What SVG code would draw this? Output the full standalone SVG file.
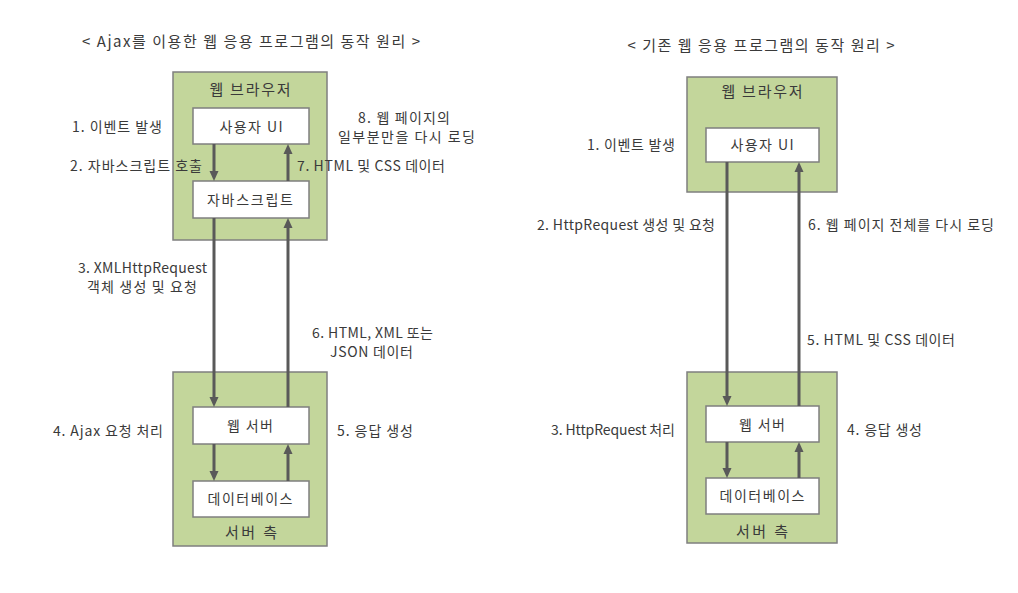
<svg xmlns="http://www.w3.org/2000/svg" width="1018" height="593" viewBox="0 0 1018 593">
<defs>
<style>
.t{font-family:"Noto Sans CJK KR","Noto Sans",sans-serif;font-size:14px;fill:#3a3a3a}
.c{text-anchor:middle}
.title{font-size:15px}
.grp{fill:#C3D69B;stroke:#7F7F7F;stroke-width:1.5}
.box{fill:#FFFFFF;stroke:#7F7F7F;stroke-width:1.5}
.ar{stroke:#595959;stroke-width:3;fill:none;marker-end:url(#ah)}
</style>
<marker id="ah" markerUnits="userSpaceOnUse" markerWidth="10" markerHeight="10" viewBox="0 0 10 10" refX="3" refY="5" orient="auto">
<path d="M0,0.5 L10,5 L0,9.5 z" fill="#595959"/>
</marker>
</defs>
<rect width="1018" height="593" fill="#FFFFFF"/>

<text class="t c title" x="251" y="47" textLength="338" lengthAdjust="spacing">&lt; Ajax를 이용한 웹 응용 프로그램의 동작 원리 &gt;</text>
<text class="t c title" x="761" y="51" textLength="267" lengthAdjust="spacing">&lt; 기존 웹 응용 프로그램의 동작 원리 &gt;</text>

<g id="ajax-browser">
<rect class="grp" x="173" y="72" width="154" height="168"/>
<text class="t c title" x="250" y="95" textLength="81" lengthAdjust="spacing">웹 브라우저</text>
</g>
<g id="ajax-ui">
<rect class="box" x="193" y="108" width="116" height="36"/>
<text class="t c" x="251" y="132" textLength="63" lengthAdjust="spacing">사용자 UI</text>
</g>
<g id="ajax-js">
<rect class="box" x="193" y="181" width="116" height="37"/>
<text class="t c" x="250" y="205" textLength="86" lengthAdjust="spacing">자바스크립트</text>
</g>
<g id="ajax-server">
<rect class="grp" x="173" y="372" width="154" height="174"/>
<text class="t c title" x="251" y="538" textLength="52" lengthAdjust="spacing">서버 측</text>
</g>
<g id="ajax-web">
<rect class="box" x="193" y="407" width="116" height="37"/>
<text class="t c" x="250" y="431" textLength="46" lengthAdjust="spacing">웹 서버</text>
</g>
<g id="ajax-db">
<rect class="box" x="193" y="481" width="116" height="36"/>
<text class="t c" x="250" y="504" textLength="85" lengthAdjust="spacing">데이터베이스</text>
</g>

<g id="classic-browser">
<rect class="grp" x="687" y="77" width="150" height="115"/>
<text class="t c title" x="762" y="97" textLength="81" lengthAdjust="spacing">웹 브라우저</text>
</g>
<g id="classic-ui">
<rect class="box" x="706" y="128" width="113" height="34"/>
<text class="t c" x="762" y="150" textLength="63" lengthAdjust="spacing">사용자 UI</text>
</g>
<g id="classic-server">
<rect class="grp" x="687" y="372" width="150" height="171"/>
<text class="t c title" x="762" y="537" textLength="52" lengthAdjust="spacing">서버 측</text>
</g>
<g id="classic-web">
<rect class="box" x="706" y="406" width="113" height="36"/>
<text class="t c" x="762" y="430" textLength="46" lengthAdjust="spacing">웹 서버</text>
</g>
<g id="classic-db">
<rect class="box" x="706" y="478" width="113" height="36"/>
<text class="t c" x="762" y="501" textLength="85" lengthAdjust="spacing">데이터베이스</text>
</g>

<g id="connectors">
<line class="ar" x1="214" y1="144" x2="214" y2="174"/>
<line class="ar" x1="214" y1="218" x2="214" y2="400"/>
<line class="ar" x1="214" y1="444" x2="214" y2="474"/>
<line class="ar" x1="288" y1="181" x2="288" y2="151"/>
<line class="ar" x1="288" y1="407" x2="288" y2="225"/>
<line class="ar" x1="288" y1="481" x2="288" y2="451"/>
<line class="ar" x1="727" y1="162" x2="727" y2="399"/>
<line class="ar" x1="727" y1="442" x2="727" y2="471"/>
<line class="ar" x1="799" y1="406" x2="799" y2="169"/>
<line class="ar" x1="799" y1="478" x2="799" y2="449"/>
</g>

<g id="labels">
<text class="t" x="72" y="132" textLength="90" lengthAdjust="spacing">1. 이벤트 발생</text>
<text class="t" x="70" y="171" textLength="132" lengthAdjust="spacing">2. 자바스크립트 호출</text>
<text class="t" x="297" y="171" textLength="148" lengthAdjust="spacing">7. HTML 및 CSS 데이터</text>
<text class="t" x="358" y="123" textLength="92" lengthAdjust="spacing">8. 웹 페이지의</text>
<text class="t" x="338" y="142" textLength="137" lengthAdjust="spacing">일부분만을 다시 로딩</text>
<text class="t" x="78" y="273" textLength="129" lengthAdjust="spacing">3. XMLHttpRequest</text>
<text class="t" x="87" y="292" textLength="110" lengthAdjust="spacing">객체 생성 및 요청</text>
<text class="t" x="312" y="338" textLength="121" lengthAdjust="spacing">6. HTML, XML 또는</text>
<text class="t" x="330" y="357" textLength="83" lengthAdjust="spacing">JSON 데이터</text>
<text class="t" x="53" y="436" textLength="110" lengthAdjust="spacing">4. Ajax 요청 처리</text>
<text class="t" x="337" y="436" textLength="76" lengthAdjust="spacing">5. 응답 생성</text>

<text class="t" x="587" y="150" textLength="88" lengthAdjust="spacing">1. 이벤트 발생</text>
<text class="t" x="537" y="230" textLength="178" lengthAdjust="spacing">2. HttpRequest 생성 및 요청</text>
<text class="t" x="808" y="230" textLength="186" lengthAdjust="spacing">6. 웹 페이지 전체를 다시 로딩</text>
<text class="t" x="807" y="345" textLength="148" lengthAdjust="spacing">5. HTML 및 CSS 데이터</text>
<text class="t" x="551" y="435" textLength="124" lengthAdjust="spacing">3. HttpRequest 처리</text>
<text class="t" x="847" y="435" textLength="75" lengthAdjust="spacing">4. 응답 생성</text>
</g>
</svg>
